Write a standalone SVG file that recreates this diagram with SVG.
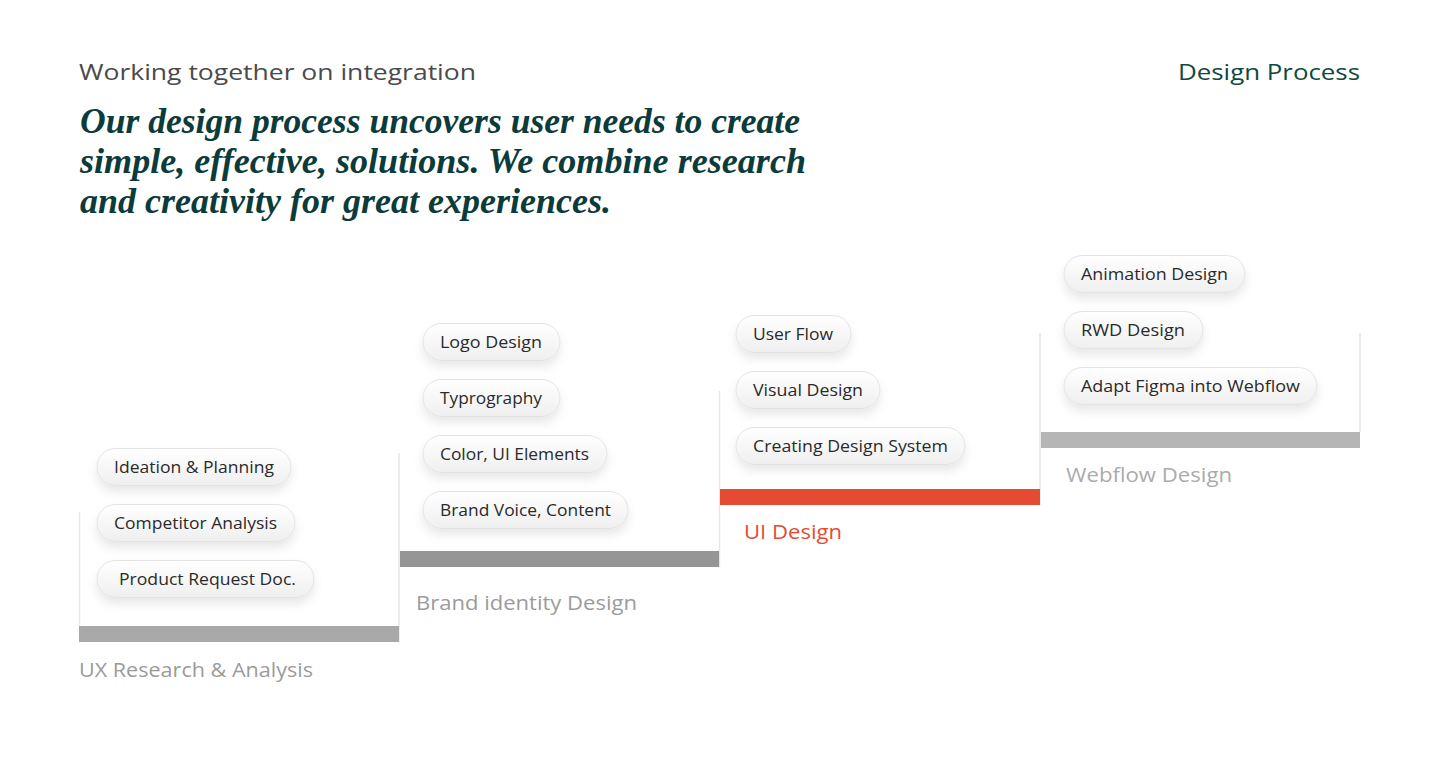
<svg xmlns="http://www.w3.org/2000/svg" width="1440" height="784" viewBox="0 0 1440 784">
<defs>
<linearGradient id="pillGrad" x1="0" y1="0" x2="0" y2="1">
<stop offset="0" stop-color="#ffffff"/>
<stop offset="1" stop-color="#efefef"/>
</linearGradient>
<filter id="shadow" x="-20%" y="-50%" width="140%" height="220%">
<feDropShadow dx="0" dy="6" stdDeviation="5" flood-color="#000000" flood-opacity="0.09"/>
</filter>
</defs>
<style>
.pill{fill:url(#pillGrad);stroke:#e3e3e3;stroke-width:1;filter:url(#shadow)}
.pt{font-family:"Open Sans","Liberation Sans",sans-serif;font-size:15.5px;fill:#2a2a2a}
.lbl{font-family:"Open Sans","Liberation Sans",sans-serif;font-size:19.5px}
.edge{stroke:#e6e6e6;stroke-width:1.5;fill:none}
.head{font-family:"Liberation Serif","DejaVu Serif",serif;font-style:italic;font-weight:bold;font-size:35px;fill:#0b3b3a}
</style>
<rect width="1440" height="784" fill="#ffffff"/>

<g id="header">
<text x="79" y="80" font-family="'Open Sans','Liberation Sans',sans-serif" font-size="22" fill="#4a4a4a" textLength="397" lengthAdjust="spacingAndGlyphs">Working together on integration</text>
<text x="1360" y="80" text-anchor="end" font-family="'Open Sans','Liberation Sans',sans-serif" font-size="22" fill="#0e4a3f" textLength="182" lengthAdjust="spacingAndGlyphs">Design Process</text>
<text class="head" x="80" y="133" textLength="720" lengthAdjust="spacingAndGlyphs">Our design process uncovers user needs to create</text>
<text class="head" x="80" y="173" textLength="726" lengthAdjust="spacingAndGlyphs">simple, effective, solutions. We combine research</text>
<text class="head" x="80" y="213" textLength="531" lengthAdjust="spacingAndGlyphs">and creativity for great experiences.</text>
</g>

<g id="connectors">
<line class="edge" x1="79.5" y1="512" x2="79.5" y2="626"/>
<line class="edge" x1="399" y1="453" x2="399" y2="642"/>
<line class="edge" x1="719.5" y1="391" x2="719.5" y2="567"/>
<line class="edge" x1="1040" y1="333" x2="1040" y2="505"/>
<line class="edge" x1="1360" y1="333" x2="1360" y2="432"/>
</g>

<g id="stage-ux">
<rect x="79" y="626" width="320" height="16" fill="#a9a9a9"/>
<text class="lbl" x="79" y="677" fill="#9b9b9b" textLength="234" lengthAdjust="spacingAndGlyphs">UX Research &amp; Analysis</text>
</g>
<g id="pill-ideation"><rect class="pill" x="97" y="448.5" width="194" height="37" rx="18.5"/><text class="pt" x="114" y="472.5" textLength="160" lengthAdjust="spacingAndGlyphs">Ideation &amp; Planning</text></g>
<g id="pill-competitor"><rect class="pill" x="97" y="504.5" width="198" height="37" rx="18.5"/><text class="pt" x="114" y="528.5" textLength="163" lengthAdjust="spacingAndGlyphs">Competitor Analysis</text></g>
<g id="pill-prd"><rect class="pill" x="97" y="560.5" width="217" height="37" rx="18.5"/><text class="pt" x="119" y="584.5" textLength="177" lengthAdjust="spacingAndGlyphs">Product Request Doc.</text></g>

<g id="stage-brand">
<rect x="400" y="551" width="319" height="16" fill="#959595"/>
<text class="lbl" x="416" y="610" fill="#9b9b9b" textLength="221" lengthAdjust="spacingAndGlyphs">Brand identity Design</text>
</g>
<g id="pill-logo"><rect class="pill" x="423" y="323.5" width="137" height="37" rx="18.5"/><text class="pt" x="440" y="347.5" textLength="102" lengthAdjust="spacingAndGlyphs">Logo Design</text></g>
<g id="pill-typo"><rect class="pill" x="423" y="379.5" width="137" height="37" rx="18.5"/><text class="pt" x="440" y="403.5" textLength="102" lengthAdjust="spacingAndGlyphs">Typrography</text></g>
<g id="pill-color"><rect class="pill" x="423" y="435.5" width="184" height="37" rx="18.5"/><text class="pt" x="440" y="459.5" textLength="149" lengthAdjust="spacingAndGlyphs">Color, UI Elements</text></g>
<g id="pill-voice"><rect class="pill" x="423" y="491.5" width="205" height="37" rx="18.5"/><text class="pt" x="440" y="515.5" textLength="171" lengthAdjust="spacingAndGlyphs">Brand Voice, Content</text></g>

<g id="stage-ui">
<rect x="720" y="489" width="320" height="16" fill="#e54b32"/>
<text class="lbl" x="744" y="539" fill="#e54b32" textLength="98" lengthAdjust="spacingAndGlyphs">UI Design</text>
</g>
<g id="pill-userflow"><rect class="pill" x="736" y="315.5" width="115" height="37" rx="18.5"/><text class="pt" x="753" y="339.5" textLength="80" lengthAdjust="spacingAndGlyphs">User Flow</text></g>
<g id="pill-visual"><rect class="pill" x="736" y="371.5" width="144" height="37" rx="18.5"/><text class="pt" x="753" y="395.5" textLength="110" lengthAdjust="spacingAndGlyphs">Visual Design</text></g>
<g id="pill-system"><rect class="pill" x="736" y="427.5" width="229" height="37" rx="18.5"/><text class="pt" x="753" y="451.5" textLength="195" lengthAdjust="spacingAndGlyphs">Creating Design System</text></g>

<g id="stage-webflow">
<rect x="1041" y="432" width="319" height="16" fill="#b5b5b5"/>
<text class="lbl" x="1066" y="482" fill="#ababab" textLength="166" lengthAdjust="spacingAndGlyphs">Webflow Design</text>
</g>
<g id="pill-animation"><rect class="pill" x="1064" y="255.5" width="181" height="37" rx="18.5"/><text class="pt" x="1081" y="279.5" textLength="147" lengthAdjust="spacingAndGlyphs">Animation Design</text></g>
<g id="pill-rwd"><rect class="pill" x="1064" y="311.5" width="139" height="37" rx="18.5"/><text class="pt" x="1081" y="335.5" textLength="104" lengthAdjust="spacingAndGlyphs">RWD Design</text></g>
<g id="pill-figma"><rect class="pill" x="1064" y="367.5" width="253" height="37" rx="18.5"/><text class="pt" x="1081" y="391.5" textLength="219" lengthAdjust="spacingAndGlyphs">Adapt Figma into Webflow</text></g>
</svg>
